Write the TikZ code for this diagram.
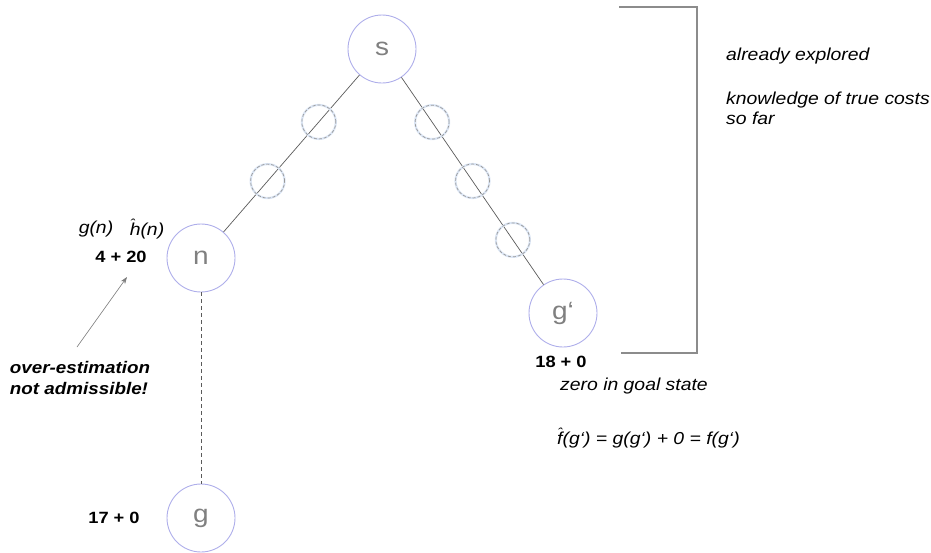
\documentclass[tikz,border=0pt]{standalone}
\usepackage{fontspec}
\setmainfont[FakeStretch=1.12]{Liberation Sans}
\usetikzlibrary{calc,arrows.meta}
\definecolor{ring}{HTML}{AEAEEA}
\definecolor{txtgray}{HTML}{808080}
\definecolor{linegray}{HTML}{5A5A5A}
\definecolor{ghostgray}{HTML}{9A9A9A}
\definecolor{glow}{HTML}{DCE6F5}
\definecolor{brgray}{HTML}{8C8C8C}
\newcommand\hatx[1]{\leavevmode\rlap{\raisebox{7pt}{\kern0.02em\fontsize{13}{13}\selectfont ˆ}}#1}
\begin{document}
\begin{tikzpicture}[x=1pt,y=-1pt,
  state/.style={circle, draw=ring, line width=0.9pt, minimum size=68pt, inner sep=0pt,
    text=txtgray, font=\fontsize{25}{25}\selectfont},
  ghost/.style={circle, draw=ghostgray, dash pattern=on 3pt off 2pt, line width=0.7pt,
    minimum size=34pt, inner sep=0pt,
    preaction={draw=glow, solid, line width=2.2pt}},
  edge/.style={draw=linegray, line width=0.7pt},
  bracket/.style={draw=brgray, line width=1.1pt},
  lbl/.style={font=\fontsize{17.3}{20}\selectfont\itshape, inner sep=0pt},
  cost/.style={font=\fontsize{16.3}{19}\selectfont\bfseries, inner sep=0pt},
  warn/.style={font=\fontsize{16.8}{19}\selectfont\bfseries\itshape, inner sep=0pt},
  pointer/.style={draw=linegray!80, line width=0.6pt, -{Stealth[length=7pt,width=5pt]}}]
\useasboundingbox (0,0) rectangle (931,552);

% states
\node[state] (s) at (382,49) {s};
\node[state] (n) at (201,258) {n};
\node[state] (g) at (201,518) {g};
\node[state] (gp) at (563,313) {g‘};

% edges
\draw[edge] (s) -- (n);
\draw[edge] (s) -- (gp);
\draw[edge, dashed, dash pattern=on 4pt off 3pt] (n) -- (g);

% intermediate (unexplored) states on the paths
\node[ghost] (d1) at ($(s)!0.349!(n)$) {};
\node[ghost] (d2) at ($(s)!0.632!(n)$) {};
\node[ghost] (e1) at ($(s)!0.277!(gp)$) {};
\node[ghost] (e2) at ($(s)!0.5!(gp)$) {};
\node[ghost] (e3) at ($(s)!0.723!(gp)$) {};

% bracket
\coordinate (b1) at (619,7);
\coordinate (b2) at (697,7);
\coordinate (b3) at (697,353);
\coordinate (b4) at (621,353);
\draw[bracket] (b1) -- (b2) -- (b3) -- (b4);

% right-hand notes
\node[lbl, anchor=west] (ae) at (726,56) {already explored};
\node[lbl, anchor=west] (kt) at (726,100) {knowledge of true costs};
\node[lbl, anchor=west] (sf) at (726,118) {so far};

% costs at n
\node[lbl] (gn) at (96,229) {g(n)};
\node[lbl] (hn) at (147,229) {\hatx{h}(n)};
\node[cost] (c1) at (121,257) {4 + 20};

% over-estimation note
\node[warn] (w1) at (80,367) {over-estimation};
\node[warn] (w2) at (79,388) {not admissible!};
\coordinate (at) at (77,347);
\coordinate (ah) at (127,277);
\draw[pointer] (at) -- (ah);

% costs at g'
\node[cost] (c2) at (561,362) {18 + 0};
\node[lbl, anchor=west] (zg) at (560,386) {zero in goal state};
\node[lbl, anchor=west] (fx) at (557,438) {\hatx{f}(g‘) = g(g‘) + 0 = f(g‘)};

% cost at g
\node[cost] (c3) at (114,518) {17 + 0};
\end{tikzpicture}
\end{document}
